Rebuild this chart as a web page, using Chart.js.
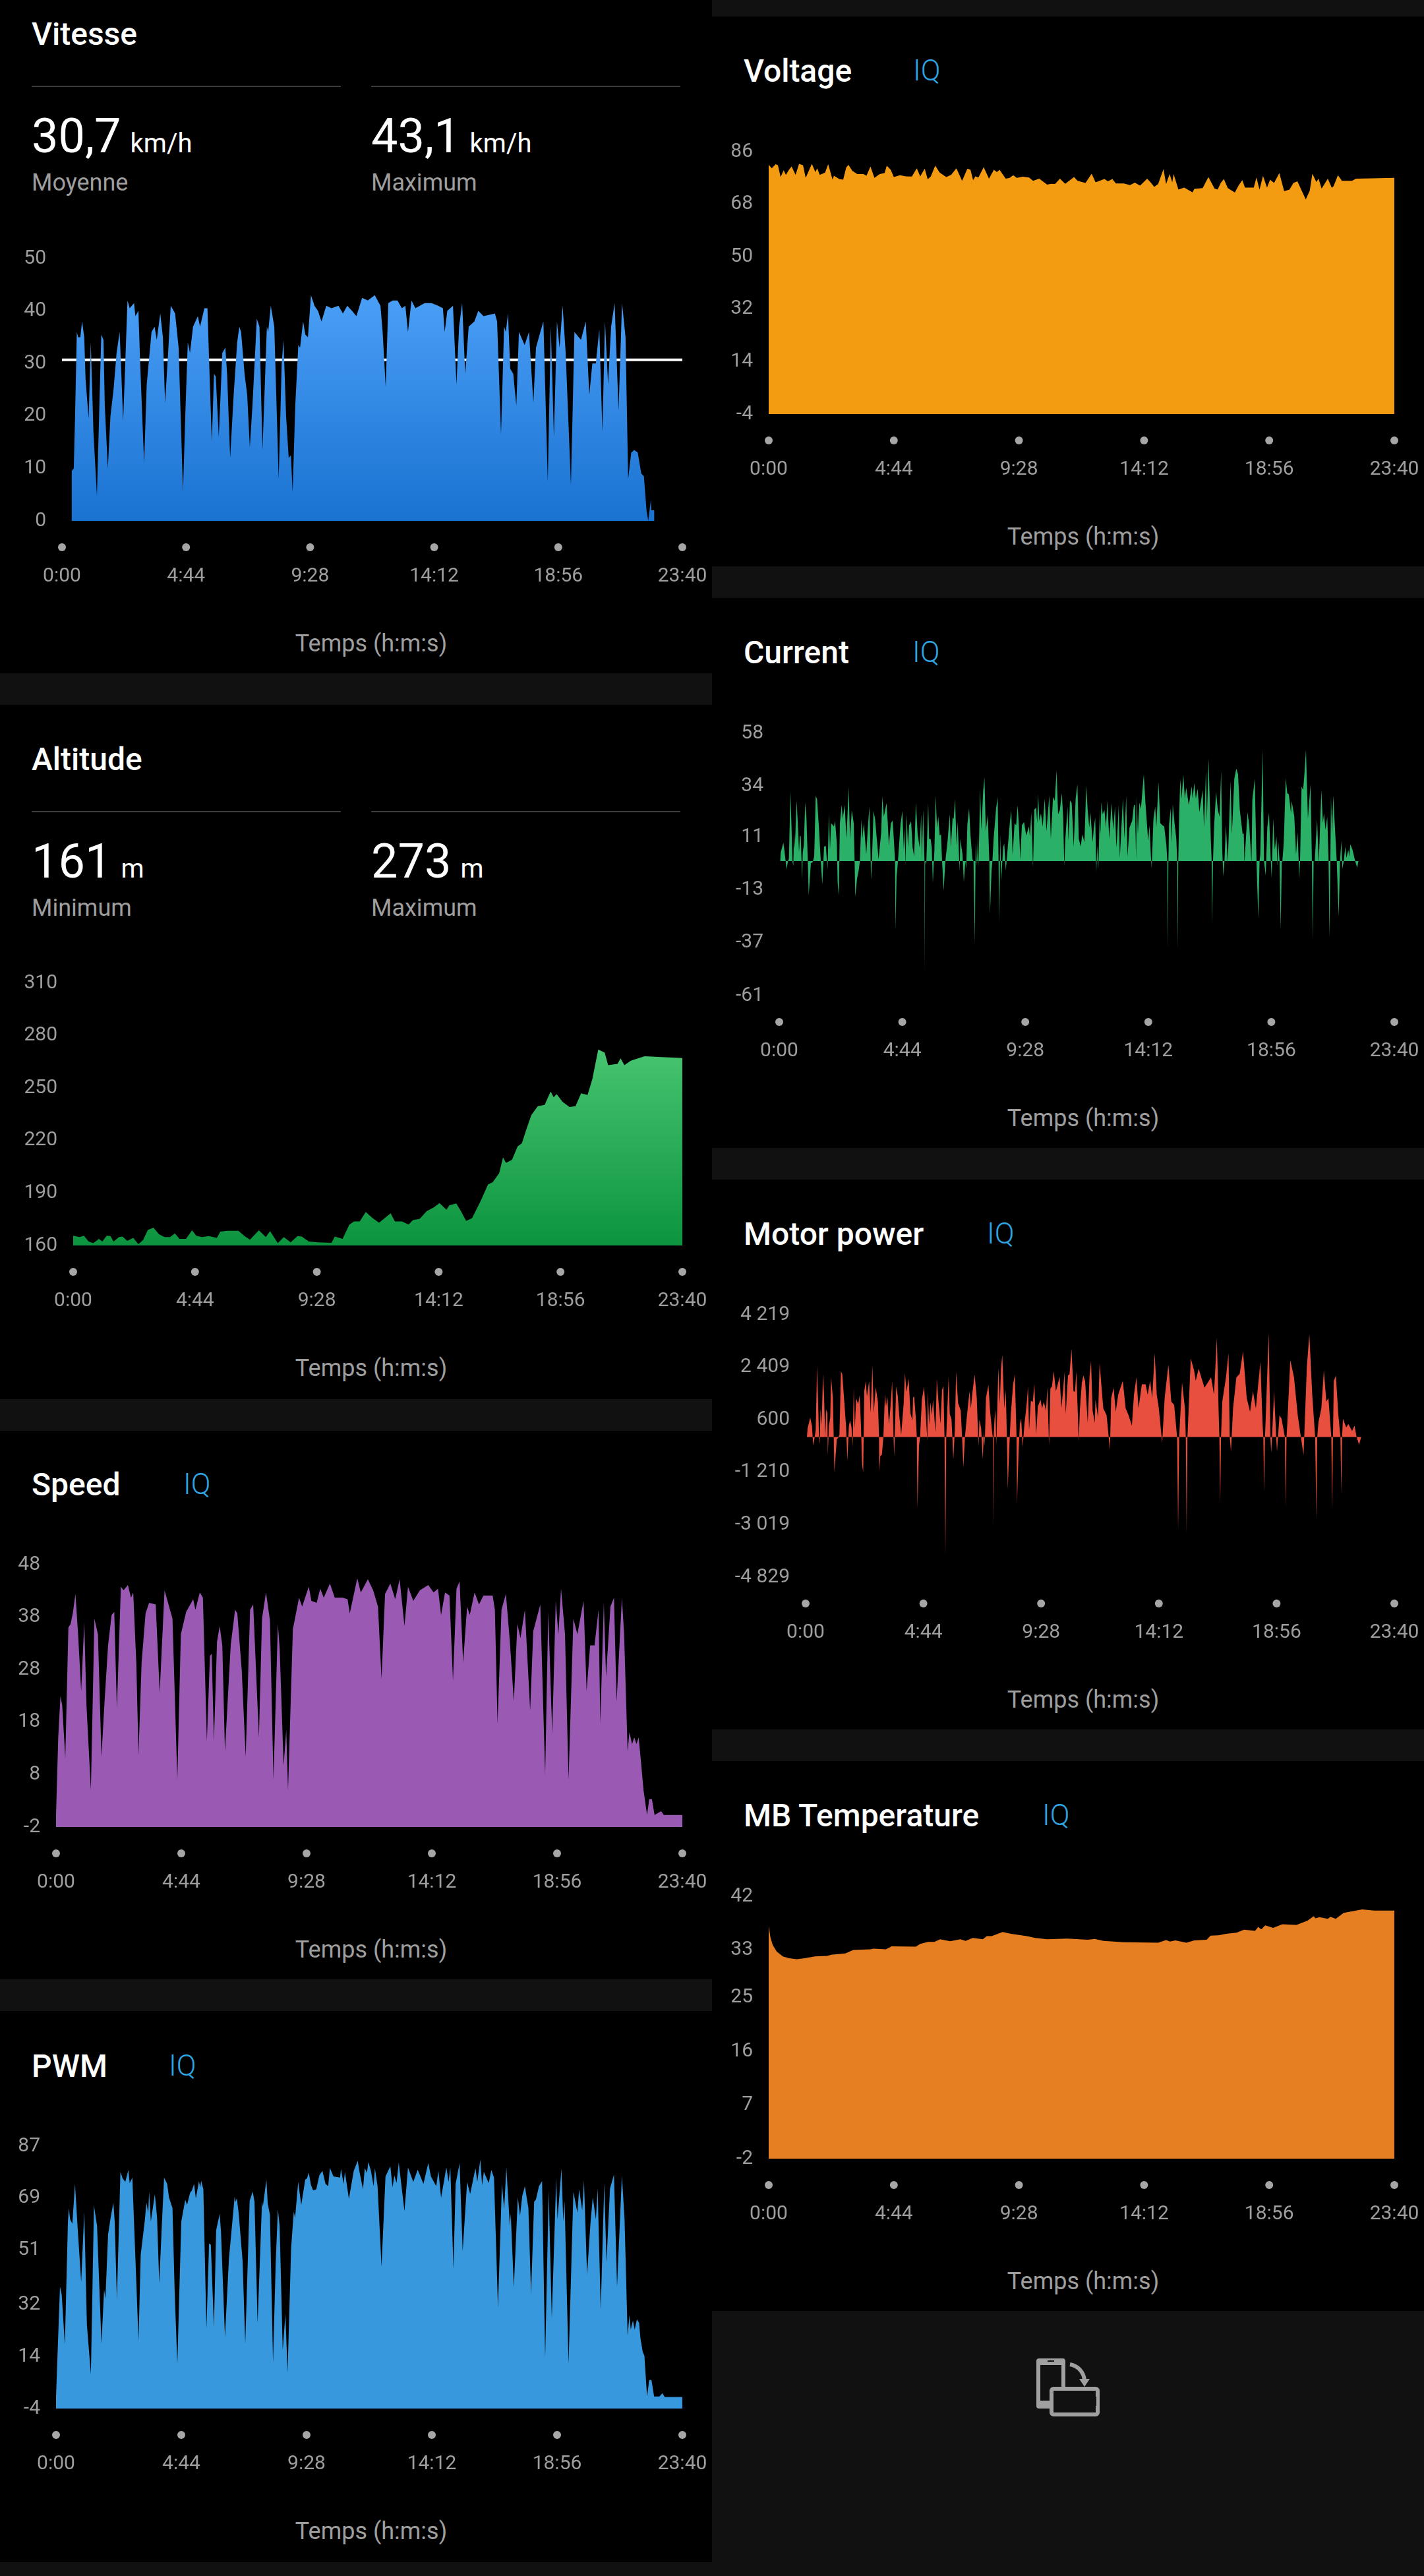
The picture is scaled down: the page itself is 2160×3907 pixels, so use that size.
<!DOCTYPE html>
<html>
<head>
<meta charset="utf-8">
<script src="https://cdn.jsdelivr.net/npm/chart.js@4"></script>
<style>
  html, body { margin: 0; background: #000; }
  body { position: relative; width: 2160px; height: 3907px; overflow: hidden; font-family: Roboto, sans-serif; }
  canvas { position: absolute; }
  .band { position: absolute; background: #111; }
  .rule { position: absolute; height: 2px; background: #3c3c3c; }
  .txt { position: absolute; transform: translateY(-50%); white-space: nowrap; }
  .title { font-size: 48px; font-weight: 500; color: #fff; }
  .iq { font-size: 44px; font-weight: 300; color: #2ea5e2; }
  .num { font-size: 72px; color: #fff; }
  .unit { font-size: 40px; color: #fff; margin-left: 14px; }
  .sub { font-size: 36px; color: #9e9e9e; }
  .axis { font-size: 36px; color: #9e9e9e; transform: translate(-50%, -50%); }
</style>
</head>
<body>
<script>
const timeTicks = [0, 284, 568, 852, 1136, 1420];
const timeLabels = ['0:00', '4:44', '9:28', '14:12', '18:56', '23:40'];
const axisTitle = 'Temps (h:m:s)';

const vitesseTicks = [50, 40, 30, 20, 10, 0];
const vitesseMean = 30.7;
const vitesseTime = [22,22,27,30,34,37,42,46,51,54,61,66,72,80,85,90,95,98,105,111,118,125,132,135,140,144,150,155,165,168,175,179,188,194,205,212,217,225,231,236,243,249,259,267,277,283,288,293,300,311,316,326,333,337,343,348,352,359,367,374,378,385,393,401,406,410,418,424,430,436,446,452,459,469,472,478,486,496,503,507,513,519,524,528,534,541,545,552,557,563,570,578,586,594,605,617,633,643,653,664,674,687,700,716,729,734,741,747,757,768,778,786,792,800,809,830,846,861,872,876,882,895,903,909,916,923,931,944,953,965,991,996,1005,1012,1016,1021,1026,1033,1040,1046,1059,1069,1079,1085,1095,1102,1112,1119,1126,1133,1139,1146,1153,1165,1173,1188,1199,1207,1214,1222,1230,1237,1243,1250,1257,1265,1274,1282,1290,1296,1303,1310,1318,1326,1332,1338,1342,1348,1349,1356,1356];
const vitesseValues = [0,9.5,10,20,36,35,35,38,35,27,19.5,34,17,4.8,20,35.5,34.5,22,10,20,25,32,36,30,19,28,42,40.5,41.5,39,40,30,11,26,36,37,34.5,39.5,35,22.5,32,41,39.5,33,5.5,22,34,32,37,39,37,40.5,40.5,30,15,28,27.5,16,32,33,28,12,24,34,37,36,28,24,14,22,38.5,37,13.5,37,36,41,37,8,30,34.5,20,12,12.5,5.5,22,33.5,33,38,35.5,35,43,41,40,38,41,40.5,41,39.5,41,40,39,42.5,42,43,41,36,25.5,41.5,42,42,40.5,41,36,42,40.5,41.5,41.5,41,40.5,36,40,41,26,37,41.5,28,37,38,40,39,39.5,38,16.5,37,36,39.5,29,28,22,36,33.5,36,22.5,33,36,38,7.5,37,16,38,33,41,32,6.8,36,34.5,38,24,30,30,36.5,17,38,26,37,41.5,21,41.5,35,8,13,13.5,13,9,8.5,2,0,4,2,2,0];

const altitudeTicks = [310, 280, 250, 220, 190, 160];
const altitudeTime = [0,15,25,36,47,60,68,78,87,94,107,115,126,140,152,163,174,187,200,213,226,237,248,263,277,287,300,316,335,343,359,385,401,412,433,449,459,477,491,507,523,533,549,570,602,610,628,644,655,668,682,697,713,740,750,766,782,792,808,824,840,854,870,877,893,904,916,930,951,967,978,993,1002,1009,1023,1036,1046,1057,1068,1083,1099,1113,1120,1127,1141,1157,1171,1184,1199,1210,1224,1239,1247,1269,1276,1285,1300,1332,1420];
const altitudeValues = [165.6,164.8,165.6,162.3,161.3,163.8,162.3,165.6,165.4,162.3,164.8,165.1,162.6,164.3,160.8,163.1,168.9,170.2,166.4,164.8,164.8,166.9,163.8,163.8,168.7,165.6,164.8,165.4,164.3,167.9,168.4,168.4,165.1,163.3,168.7,164.8,168.2,161.3,164.8,161.8,165.4,165.1,162.3,161.8,161.5,165.1,163.8,172,173.8,173.8,179.1,175.8,173,178.4,173.8,173.8,172,174.5,175.3,179.6,181.7,184.2,180.4,183,184,179.6,174,175.6,186,194.9,196.2,201.3,210.3,207.2,209,216.6,218.4,226.8,234.5,239.6,240.4,248,244.7,246.5,242.1,239.1,239.6,247,246,254.9,272,270.2,263.1,263.8,266.9,263.1,265.6,268.2,267.1];

const speedTicks = [48, 38, 28, 18, 8, -2];
const speedTime = [0,5,10,14,21,28,33,38,44,50,57,64,69,79,87,95,103,110,118,126,132,138,147,153,163,170,175,182,187,194,203,211,226,235,246,254,264,275,283,295,311,316,326,333,342,349,353,358,365,371,377,383,396,406,411,421,430,440,447,460,467,476,485,493,503,507,516,522,526,537,551,558,573,579,591,599,607,621,632,650,661,666,683,691,707,719,730,738,746,758,769,779,790,798,810,825,844,856,866,873,882,892,900,908,915,923,932,938,949,959,969,990,995,1001,1010,1020,1029,1038,1046,1053,1063,1075,1082,1098,1109,1116,1125,1133,1139,1145,1154,1162,1173,1182,1196,1203,1211,1221,1230,1234,1242,1247,1257,1265,1271,1283,1288,1296,1300,1306,1311,1316,1321,1327,1332,1340,1345,1351,1357,1372,1378,1420];
const speedValues = [0.3,15.1,22.9,21.2,11.1,36,36.7,38.7,42.4,34.7,23.9,37,21.2,5,37.7,34.7,11.4,21.9,32.6,38.4,39,20.5,43.8,43.1,44.1,41.7,42.7,29.3,11.8,29.3,38.7,40.7,40.4,23.6,43.1,40.7,37.7,7,34.7,39,41.4,39.4,42.7,41.7,14.4,30.6,31,14.4,33.3,36.3,32.6,12.4,32.6,39.4,38.7,27.9,11.4,39.4,40.4,15.1,37.7,42.7,37.4,7,36.7,32,9.7,16.5,5,35.7,41.7,40,43.8,41.1,40.7,43.4,41.7,44.4,41.7,41.7,41.4,38.7,45.4,42.7,45.2,43.1,40,26.2,42.4,44.4,41.4,45.2,36.3,43.8,41.1,43.1,44.1,42.7,43.4,38.4,42.7,42.1,25.9,43.4,44.8,29.3,40,38.4,42.7,40.4,42.1,42.1,39.4,17.8,39.4,42.4,33.3,21.9,36.7,34,39.4,20.2,35.3,40.4,8,39,15.8,41.1,34.7,43.4,34.7,7,37.7,34.7,41.1,23.9,32.6,32.6,39.4,17.8,40.7,26.6,40,41.7,21.9,41.7,34.7,12.4,16.1,13.8,15.1,13.8,15.1,9.7,5,0.3,3.3,3.3,0.3,1,0.3,0.3];

const pwmTicks = [87, 69, 51, 32, 14, -4];
const pwmTime = [0,4,9,13,20,27,29,32,37,43,49,57,64,70,79,86,93,103,109,112,118,124,130,133,138,146,151,157,164,167,173,180,187,192,201,205,209,211,215,224,229,234,240,245,252,256,264,269,275,284,293,297,304,308,313,317,324,327,329,334,341,347,351,358,363,371,374,383,392,405,407,410,414,423,429,439,446,450,457,467,469,477,480,485,492,498,503,507,514,520,525,533,539,542,549,556,565,569,573,578,583,590,597,604,611,617,621,629,644,646,652,655,664,675,684,688,696,700,705,708,714,720,723,729,738,747,758,763,767,772,777,790,798,810,820,833,844,850,862,867,873,885,890,894,901,906,915,922,932,939,951,955,962,966,970,981,987,993,1002,1011,1016,1021,1029,1031,1038,1047,1052,1057,1063,1071,1077,1084,1088,1095,1102,1109,1117,1124,1134,1137,1146,1150,1153,1162,1173,1182,1186,1193,1197,1204,1212,1217,1224,1228,1235,1243,1248,1256,1265,1272,1283,1289,1296,1300,1303,1308,1312,1317,1322,1325,1330,1334,1340,1345,1350,1356,1368,1375,1380,1420];
const pwmValues = [0,17.3,38.3,35.3,18.1,60.9,65.5,61.6,60.1,73.9,58.6,39.9,64.3,25,7.9,66.4,59.3,18.5,37.2,34.1,56.3,62.4,67.4,60.9,33.8,78.1,75.8,74.6,78.7,74.2,76.1,47.9,19.6,49.4,60.9,67.4,63.9,71.2,60.9,70.3,62.4,39.5,60.1,76.1,73.9,69.3,65.5,36.4,11.4,60.9,68.4,66.6,70.8,71.6,73.9,68.9,74.8,72.7,75,72,23.8,53.2,52.8,24.2,57.8,63.5,57.4,20.8,47.9,69.5,67.7,68.9,63.9,47.1,18.5,68.1,71.2,67.7,25.7,67.7,66.1,75.4,67,63.2,12,46.4,65.1,59.3,16.2,28.8,8.5,51.7,64.3,62,74.6,66.6,75.4,75.8,77.8,73.5,71.6,72,76.9,78.4,73.9,73.1,79.4,76.5,76.1,79.1,73.9,78.1,68.7,78.4,81.9,78.1,72,79.4,77.7,81.5,78.4,73.1,79.4,73.1,45.2,76.5,80,72.7,76.9,74.2,81.3,64.5,79.6,74.6,78.8,73.9,81.1,76.5,73.1,78.4,69.1,79.6,74.6,79.6,44.4,73.9,81.1,50.6,74.6,70.4,79.4,74.6,82.3,73.5,78.1,74.2,78.7,76.1,31.1,73.9,65.1,79.6,59.3,63.5,38,69.3,62.8,69.7,73.1,65.5,35.7,67.7,68.5,73.1,74.9,13.5,71.6,27.3,75.8,61.6,79.2,60.9,68.1,11.6,71.2,63.9,72,64.7,75,42.5,60.9,69.3,61.6,72.3,30.3,74.2,46.7,72.3,77.1,38.3,76.8,61.6,21.2,28.4,23.4,26.5,23.4,26.9,25.7,20.4,15.8,14.3,0.2,5.9,5.9,0.2,0.2,1.3,0,0];

const voltageTicks = [86, 68, 50, 32, 14, -4];
const voltageTime = [0,7,16,21,27,34,39,46,52,61,69,78,84,92,98,106,110,116,128,135,145,148,160,169,176,181,190,201,215,222,231,240,252,263,268,277,284,298,311,325,336,344,354,361,368,378,388,403,414,426,439,451,458,464,469,476,488,500,511,518,524,538,547,555,563,577,591,600,614,632,641,650,661,673,693,701,719,733,742,762,770,780,788,806,820,831,843,859,868,875,884,896,902,910,916,919,930,943,962,966,985,998,1012,1019,1026,1033,1042,1058,1067,1075,1081,1101,1107,1114,1122,1131,1138,1147,1159,1170,1182,1191,1200,1219,1228,1234,1243,1248,1255,1269,1278,1282,1292,1301,1324,1333,1420];
const voltageValues = [81.5,80.3,81.7,81.3,77.3,79.6,78.05,79.8,80.9,78.05,81.8,81.3,77,79.8,81.8,79,80.3,78.05,78.8,81.7,76.4,77.75,76.6,76.4,80.55,81.5,79.4,78.3,78.3,77.75,80.9,77,78.3,78.65,81.2,79.8,77.3,77.9,77.5,77.45,80.3,77.5,80.2,76.5,77.5,81.2,78.8,77.3,78.05,80.3,76,80.2,79.8,76.2,77.5,77.1,80.7,76.75,79.8,79,79.8,76.75,77,77.9,77,77.4,77.1,76,76.75,74.7,75,74.9,76.75,75,77.3,76,75.25,78.4,75.5,76.6,75.8,76.6,75.1,75.1,74.5,75.4,74.35,76.75,75.25,73.9,74.9,80,74.9,78.3,75.5,78.3,73,73.7,72.05,73.2,73.5,77.3,73.35,73,75.25,76.6,73.5,72,74.5,76.2,73.7,73.7,77.1,73,77.7,73.7,76.4,75.25,78.65,72.45,73,75.25,75.85,69.6,72.6,78.4,75.6,76.75,73.35,76.75,73.6,74.1,77.9,76,76,76.75,77];

const currentTicks = [58, 34, 11, -13, -37, -61];
const currentTime = [2,3.6,9.6,12.2,14.7,16.7,20.8,22.3,25.9,28.4,30.4,32.5,34,36,40.1,42.6,45.7,47.7,49.7,52.8,54.3,56.8,59.9,62.9,65.9,68,73,77.1,80.7,84.2,87.3,91.3,95.9,99.4,103.5,107.5,111.6,114.7,117.2,119.7,126.3,128.9,132.9,134.9,137.5,140,144.1,146.6,151.2,155.2,160.3,163.4,167.4,172,174,175.5,179.6,183.6,186.2,189.7,191.8,195.3,200.9,203.9,208,210,212,214,217.6,221.2,225.2,229.3,235.4,237.9,241.5,247.6,250.6,253.1,257.7,261.8,264.8,267.3,268.4,270.9,273.9,280,284.1,287.6,290.2,291.2,294.2,297.3,299.8,304.4,307.9,311.5,315.5,319.6,324.2,327.7,329.2,332.3,335.3,335.8,336.8,339.4,343.9,346,349.5,352.1,354.6,358.2,361.2,364.2,367.3,370.3,373.4,375.9,379.5,383.5,388.6,393.7,396.2,400.3,402.8,405.8,409.4,411.9,415.5,416.5,418,423.1,426.1,429.7,431.7,434.3,438.3,441.4,445.9,448.5,451.5,453.5,456.6,458.6,460.1,463.7,466.7,470.8,473.8,476.9,481.4,485,486.5,490.1,492.1,495.1,500.7,504.3,506.3,507.8,510.3,512.4,516.9,519.5,523,527.1,532.2,535.7,538.8,543.3,546.9,550.4,553.5,556.5,560.1,565.1,570.2,576.3,578.8,581.9,585.9,589,593,595.6,597.6,600.6,604.2,608.3,612.8,616.9,623.5,627,632.1,636.2,640.2,643.8,647.8,652.4,655.4,658,660.5,665.6,667.6,671.2,675.2,679.8,684.3,688.4,691.5,696,699.6,704.6,708.7,712.2,715.8,718.3,723.4,726.4,729.5,732,734,736.6,740.1,741.6,743.7,746.7,750.8,754.3,757.4,761.9,767,771.1,775.1,778.2,780.7,783.7,786.3,793.4,796.9,801,804,808.6,814.7,818.8,821.3,823.8,825.3,827.9,831.4,835,841.6,845.1,851.7,854.8,857.8,859.8,863.9,868,870.5,875.6,879.6,884.7,888.8,893.8,895.9,896.9,898.4,899.9,904,905.5,908.5,912.6,916.7,918.7,919.7,921.2,923.3,925.8,928.8,932.9,936.4,939.5,945.6,952.2,954.2,958.3,961.8,965.9,969.9,977.5,980.6,985.1,987.2,991.2,996.3,998.3,999.4,1001.4,1003.9,1008.5,1012.5,1016.6,1020.2,1022.7,1025.2,1027.8,1031.3,1035.4,1042,1045,1050.6,1055.2,1059.2,1063.3,1069.9,1072.4,1073.9,1081,1085.1,1090.2,1092.2,1097.8,1101.8,1105.9,1108.9,1110.5,1116,1119.1,1123.1,1126.7,1130.7,1134.3,1136.8,1140.4,1143.9,1148,1150,1152,1155.1,1157.6,1160.2,1161.2,1164.7,1169.3,1172.8,1176.4,1181.5,1183,1189.1,1193.1,1196.7,1199.2,1200.2,1202.3,1205.8,1209.4,1212.4,1216,1220.5,1226.6,1229.7,1231.7,1233.7,1236.3,1238.8,1241.8,1245.4,1251.5,1255,1257.6,1261.1,1265.2,1268.2,1270.3,1272.3,1273.8,1276.3,1278.9,1282.9,1287,1291.5,1294.6,1297.6,1300.2,1303.2,1306.8,1309.3,1313.9,1315.9,1318.4,1323.5,1329.6,1334.2,1337.2,1354];
const currentValues = [0,4,8.4,4.5,0,-3.8,0.5,1,31.6,15.2,0,-2.3,12.6,5.6,27.5,18.2,4,11.6,11.1,-8.3,4,7.1,26.5,19.2,0,-15.7,-1,-0.5,2,29.6,28.1,16.2,0,-10.6,6.6,6.9,-3.8,21.7,5.1,17.2,15.7,18.2,8.1,-10.1,-15.7,17.2,25.5,19.2,25.5,10.1,33.6,10.1,23,17.2,0,-16.2,-8.1,-4,0,19,10.1,17.2,3,13.1,24.7,10.1,-8.6,0,22.7,19.2,10.1,0.8,13.1,29.3,20.2,26.3,17.2,7.1,17.2,18.4,9.1,0,-31.3,-7.1,-0.5,16.7,22.7,5.1,15.2,-2.5,21.2,6.1,16.2,18,6.1,2,26.6,12.1,6.1,21.2,1,23.4,0,-50.8,0,-1.5,26.3,10.1,10.1,6.1,-10.1,5.1,29.8,15.2,20.2,11.6,12.1,0,-13.6,0,9.1,21.4,6.1,19.7,19.2,28.3,7.1,18,0,-4.8,10.1,3,-9.6,0,-3.5,16.7,24,12.1,1,0,-37.9,8.1,-2.5,12.1,-3,32.5,14.1,31.8,37.9,13.6,21,0,-24,-4.5,0,10.6,24,29,0,-27.5,12.1,-9.1,6.1,8.1,-4.5,5.1,17.2,23.2,2.5,17.2,16.2,25.3,15.2,0.5,16.2,17.7,11.6,15.7,11.1,22.2,-3,23.4,24.2,17.2,30.3,18.2,21.7,15.7,28.3,13.6,29.8,10.1,29.1,27.3,41.2,21.2,23.2,30.8,20.2,-2.5,10.1,24.7,9.1,27.5,26.3,6.6,28.3,34.8,10.1,6.6,12.1,8.6,34.3,22.7,15.2,22.2,8.6,15.2,19.7,-5.1,7.1,-4,23.2,12.1,26.7,21.2,23.2,15.2,27.5,10.1,26.3,14.1,24.7,6.1,13.1,25.3,1.5,28.5,10.1,29.5,2,15.2,18.2,25.5,25.3,1,29.5,12.1,26.5,23.7,39.4,27.3,9.1,16.2,3,-3.2,19.2,24.7,15.2,35.9,17.2,16.2,15.7,7.1,0,-40,0,16.7,24,8.1,25.8,17.2,10.1,0,-40.2,0,21.2,37.4,28.3,39.2,28.3,33.3,25.3,33.9,28.3,35.4,28.3,32.8,22.2,32.3,15.2,40.9,18.2,46.7,10.1,0,-28.8,0,15.7,31.5,23.2,20.2,41.2,5.1,-7.1,0,16.3,-1,36.4,12.1,37.4,41.9,39.4,23.2,12.1,12.6,-1,22.2,16.2,-1,27.8,37.4,0,-26.1,0,3,50.5,0,-6.6,15.2,22,2,-7.6,19.4,5.1,11.1,-2.5,9.1,0,-31.5,0,-0.5,8.1,37.6,30.8,30.3,21.7,27.3,20.2,3,13.1,0,-8.1,0,33.8,32.3,39.4,50.5,19.2,34.8,0,-36,0,0,9.1,18.7,-1.5,32.3,17.2,21.7,14.1,20.2,0,-35,0,29.3,12.1,29.8,15.2,0,-25.3,0,9.1,-3.5,0,6.6,1.5,5.1,2,7.6,5.1,0,-3,0,0];

const powerTicks = [4219, 2409, 600, -1210, -3019, -4829];
const powerTime = [3.2,4.8,11.1,15.4,17,18.6,22.3,24.4,27.6,30.2,32.3,33.9,36,38.7,41.9,44.5,47.2,49.8,52.5,53.5,56.2,59.4,61.5,65.7,67.8,69.4,75.3,79,81.6,85.3,88.5,93.3,97.5,100.7,104.4,107.1,110.8,113.4,116.1,118.7,121.9,126.7,130.4,133.6,136.2,138.9,141.5,145.2,147.9,153.2,156.9,161.1,164.3,169.1,174.4,177,177.6,180.2,183.9,187.6,191.3,194,197.2,200.9,204.6,208.8,212,213.6,218.4,222.1,225.8,230.5,236.4,239.6,243.3,248.6,252.8,257.6,259.2,261.8,266.1,268.2,269.8,273.5,276.1,280.4,285.7,289.4,293.6,294.7,297.9,301,304.2,307.4,313.2,316.4,320.1,325.4,329.1,332.3,335,337.1,339.2,340.3,345,347.7,351.9,354,356.2,359.9,363,367.8,374.2,377.4,380.5,384.3,389,395.4,398.6,402.3,407.6,412.9,417.1,419.2,423.5,427.2,430.4,432,435.1,441,444.7,450,451.6,452.6,453.7,455.3,457.9,460,464.8,468.5,471.2,474.4,479.1,482.8,485.5,487.6,491.3,495,500.3,504.6,508.8,509.9,513.6,516.8,520,523.6,527.9,533.2,536.4,539,543.3,548,551.7,556,560.2,566.6,570.3,574.5,579.8,583,587.2,590.4,594.1,598.4,603.7,606.3,612.7,616.9,621.2,624.3,627.5,632.8,636.5,641.3,646.1,649.8,652.9,656.7,658.8,661.4,666.2,669.9,674.2,680.5,684.8,688.5,692.2,697.5,699.1,705.4,709.1,718,726,734,737,743,748,754,765,772,779,787,792,798,803,811,820,825,831,836,842,847,852,860,866,875,882,889,896,898.5,901,908,915,917,919,921,929,937,941,948,957,962,970,978,985,992,996,998,1000,1002,1005,1014,1020,1023,1026,1031,1039,1047,1055,1064,1072,1079,1086,1097,1102,1104,1106,1108,1110,1117,1121,1123,1125,1130,1135,1137,1143,1148,1156,1158,1160,1162,1169,1178,1187,1193,1201,1209,1215,1222,1229,1232,1234,1237,1244,1250,1256,1261,1268,1270,1272,1274,1279,1285,1290,1292,1294,1296,1304,1309,1318,1324,1329,1335,1340,1378];
const powerValues = [0,300,670,380,0,-300,40,230,2450,1170,0,-250,990,420,2180,1440,-40,950,830,-640,380,680,2060,1360,0,-1210,-80,-20,80,2270,2160,1210,380,-820,380,570,340,-340,1680,300,1330,1140,1440,380,-950,-1210,1590,1930,1400,1930,830,2470,830,1720,1210,80,-1180,-650,-610,0,1480,1060,1400,420,1020,1930,0,-680,1740,1440,760,80,1140,2210,1560,2020,830,570,1360,1400,610,0,-2460,-300,0,1290,1730,910,-150,1590,420,1210,760,1290,150,2010,1290,450,1630,1760,0,-4090,0,420,2090,800,610,0,-780,230,2260,1170,910,0,-1060,0,720,1590,990,1520,2160,1330,-340,610,300,-760,230,-340,1360,1800,950,150,0,-3110,0,570,950,-270,2390,1140,2350,2840,990,1630,0,-1800,-340,790,1790,2160,0,-2310,-530,450,640,-340,450,1140,1740,230,1250,1210,1850,80,1060,1290,990,1210,910,1710,-300,1670,1740,2270,1590,1710,2080,990,1630,2240,800,2120,2160,3050,1590,1560,2270,760,-150,910,1860,2120,1930,490,2080,2620,910,490,1290,680,2550,988,750,-440,1345,1702,869,1464,1940,988,750,393,1464,2059,988,1821,1821,1464,1940,1345,2892,1464,988,-202,1345,2499,1226,1107,0,-3201,0,1880,988,0,-3332,0,2713,2297,1940,2356,1940,1702,1880,2059,1464,3427,988,0,-2320,0,1226,2059,2892,0,-500,988,2059,2178,2951,1345,869,1583,988,2594,512,0,-1892,0,750,3606,0,-536,0,1583,0,-500,750,631,0,-2404,0,512,2654,2059,750,155,-619,2416,3546,1464,0,-2820,0,512,988,2297,1226,1345,0,-2523,0,1940,2118,750,0,-1928,0,631,333,452,214,393,0,-262,0,0];

const tempTicks = [42, 33, 25, 16, 7, -2];
const tempTime = [0,4,9,18,32,46,64,82,105,133,142,174,192,231,238,266,279,334,344,362,376,389,412,435,447,463,486,495,506,531,550,586,605,632,678,724,740,760,806,884,902,911,923,948,966,994,1003,1021,1038,1062,1079,1104,1111,1118,1127,1145,1166,1198,1223,1237,1241,1250,1269,1275,1287,1305,1347,1374,1420];
const tempValues = [37,35.1,33.85,32.75,31.9,31.6,31.45,31.6,31.9,32,32.2,32.4,33,33.1,33.2,33.1,33.6,33.55,34,34.35,34.35,34.8,34.45,34.8,34.5,35,34.8,35.3,35.3,36,35.7,35.3,35,34.8,34.9,34.7,34.85,34.5,34.3,34.2,34.65,34.4,34.6,34.2,34.6,34.7,35.4,35.45,35.7,35.9,36.4,36.2,36.85,36.45,37.1,36.7,37.3,37.2,37.9,38.65,38.3,38.5,38.2,38.55,38.2,39.2,39.8,39.6,39.6];

const bands = [[0,1021,1080,48],[0,2122,1080,48],[0,3002,1080,48],[0,3886,1080,21],[1080,0,1080,25],[1080,859,1080,48],[1080,1741,1080,48],[1080,2623,1080,48],[1080,3505,1080,402]];

function addText(cls, text, x, y) {
  const el = document.createElement('div');
  el.className = 'txt ' + cls;
  el.style.left = x + 'px';
  el.style.top = y + 'px';
  el.innerHTML = text;
  document.body.appendChild(el);
  return el;
}

function addRule(x, y, w) {
  const el = document.createElement('div');
  el.className = 'rule';
  el.style.left = x + 'px';
  el.style.top = y + 'px';
  el.style.width = w + 'px';
  document.body.appendChild(el);
}

bands.forEach(b => {
  const el = document.createElement('div');
  el.className = 'band';
  el.style.cssText = `left:${b[0]}px;top:${b[1]}px;width:${b[2]}px;height:${b[3]}px`;
  document.body.appendChild(el);
});

// grey dots under the time axis
const tickDots = {
  id: 'tickDots',
  afterDraw(chart) {
    const x = chart.scales.x, c = chart.ctx;
    c.save();
    c.fillStyle = '#a6a6a6';
    x.ticks.forEach((t, i) => {
      c.beginPath();
      c.arc(x.getPixelForTick(i), chart.chartArea.bottom + 40, 6, 0, Math.PI * 2);
      c.fill();
    });
    c.restore();
  }
};

function spaced(v) {
  return String(v).replace(/\B(?=(\d{3})+(?!\d))/g, ' ');
}

function toPoints(times, values) {
  return times.map((t, i) => ({ x: t, y: values[i] }));
}

// p: col, top (first y tick), axisLeft, ticks, times, values, color or gradient, fill
function makeChart(p) {
  const canvas = document.createElement('canvas');
  const padTop = 30, plotH = 398, xH = 130;
  canvas.width = 1080;
  canvas.height = padTop + plotH + xH;
  canvas.style.left = p.col + 'px';
  canvas.style.top = (p.top - padTop) + 'px';
  document.body.appendChild(canvas);

  const fillColor = p.gradient ? function (ctx) {
    const chart = ctx.chart;
    if (!chart.chartArea) return p.gradient[0];
    const g = chart.ctx.createLinearGradient(0, chart.scales.y.getPixelForValue(Math.max(...p.values)), 0, chart.chartArea.bottom);
    g.addColorStop(0, p.gradient[0]);
    g.addColorStop(1, p.gradient[1]);
    return g;
  } : p.color;

  const datasets = [{
    data: toPoints(p.times, p.values),
    backgroundColor: fillColor,
    borderWidth: 0,
    pointRadius: 0,
    fill: p.fill,
    tension: 0
  }];
  if (p.mean !== undefined) {
    datasets.push({
      data: [{ x: timeTicks[0], y: p.mean }, { x: timeTicks[5], y: p.mean }],
      borderColor: '#fff',
      borderWidth: 4,
      pointRadius: 0,
      fill: false
    });
  }

  new Chart(canvas, {
    type: 'line',
    data: { datasets: datasets },
    plugins: [tickDots],
    options: {
      responsive: false,
      devicePixelRatio: 1,
      animation: false,
      layout: { autoPadding: false, padding: { top: padTop, right: 45, left: 0, bottom: 0 } },
      plugins: { legend: { display: false }, tooltip: { enabled: false } },
      scales: {
        x: {
          type: 'linear',
          min: timeTicks[0],
          max: timeTicks[5],
          grid: { display: false },
          border: { display: false },
          afterBuildTicks: s => { s.ticks = timeTicks.map(v => ({ value: v })); },
          afterFit: s => { s.height = xH; s.paddingLeft = 0; s.paddingRight = 0; },
          ticks: {
            color: '#9e9e9e',
            font: { family: 'Roboto', size: 30 },
            padding: 58,
            maxRotation: 0,
            autoSkip: false,
            callback: (v, i) => timeLabels[i]
          }
        },
        y: {
          min: p.ticks[5],
          max: p.ticks[0],
          grid: { display: false },
          border: { display: false },
          afterBuildTicks: s => { s.ticks = p.ticks.map(v => ({ value: v })); },
          afterFit: s => { s.width = p.axisLeft; s.paddingTop = 0; s.paddingBottom = 0; },
          ticks: {
            color: '#9e9e9e',
            font: { family: 'Roboto', size: 30 },
            padding: 16,
            autoSkip: false,
            callback: v => spaced(v)
          }
        }
      }
    }
  });
  addText('axis', axisTitle, p.col + 563, p.top + 584);
}

// Vitesse
addText('title', 'Vitesse', 48, 51);
addRule(48, 130, 469); addRule(563, 130, 469);
addText('num', '30,7<span class="unit">km/h</span>', 48, 206);
addText('num', '43,1<span class="unit">km/h</span>', 563, 206);
addText('sub', 'Moyenne', 48, 277);
addText('sub', 'Maximum', 563, 277);
makeChart({ col: 0, top: 392, axisLeft: 94, ticks: vitesseTicks, times: vitesseTime, values: vitesseValues, gradient: ['#4a9ff6', '#1a72d1'], fill: 'start', mean: vitesseMean });

// Altitude
addText('title', 'Altitude', 48, 1151);
addRule(48, 1230, 469); addRule(563, 1230, 469);
addText('num', '161<span class="unit">m</span>', 48, 1306);
addText('num', '273<span class="unit">m</span>', 563, 1306);
addText('sub', 'Minimum', 48, 1377);
addText('sub', 'Maximum', 563, 1377);
makeChart({ col: 0, top: 1491, axisLeft: 111, ticks: altitudeTicks, times: altitudeTime, values: altitudeValues, gradient: ['#47c470', '#0c943f'], fill: 'start' });

// IQ panels
addText('title', 'Speed', 48, 2251);
addText('iq', 'IQ', 278, 2251);
makeChart({ col: 0, top: 2373, axisLeft: 85, ticks: speedTicks, times: speedTime, values: speedValues, color: '#9a5ab4', fill: 'start' });

addText('title', 'PWM', 48, 3133);
addText('iq', 'IQ', 256, 3133);
makeChart({ col: 0, top: 3255, axisLeft: 85, ticks: pwmTicks, times: pwmTime, values: pwmValues, color: '#3798dd', fill: 'start' });

addText('title', 'Voltage', 1128, 107);
addText('iq', 'IQ', 1385, 107);
makeChart({ col: 1080, top: 230, axisLeft: 86, ticks: voltageTicks, times: voltageTime, values: voltageValues, color: '#f39c12', fill: 'start' });

addText('title', 'Current', 1128, 989);
addText('iq', 'IQ', 1384, 989);
makeChart({ col: 1080, top: 1112, axisLeft: 102, ticks: currentTicks, times: currentTime, values: currentValues, color: '#2bb067', fill: 'origin' });

addText('title', 'Motor power', 1128, 1871);
addText('iq', 'IQ', 1497, 1871);
makeChart({ col: 1080, top: 1994, axisLeft: 142, ticks: powerTicks, times: powerTime, values: powerValues, color: '#e94f3e', fill: 'origin' });

addText('title', 'MB Temperature', 1128, 2753);
addText('iq', 'IQ', 1581, 2753);
makeChart({ col: 1080, top: 2876, axisLeft: 86, ticks: tempTicks, times: tempTime, values: tempValues, color: '#e67e22', fill: 'start' });
</script>
<svg style="position:absolute;left:1560px;top:3570px" width="120" height="105" viewBox="1560 3570 120 105">
  <path fill="#a0a0a0" fill-rule="evenodd" d="M1576 3577h36a4 4 0 0 1 4 4v39h-6v-33h-32v54h14v12h-16a4 4 0 0 1-4-4v-68a4 4 0 0 1 4-4z"/>
  <rect x="1589" y="3580" width="10" height="2" fill="#111"/>
  <rect x="1595" y="3623" width="70" height="39" rx="3" fill="#111" stroke="#a0a0a0" stroke-width="6"/>
  <rect x="1661" y="3635" width="2" height="14" fill="#111"/>
  <path fill="none" stroke="#a0a0a0" stroke-width="6" d="M1623 3586c12 2 21 12 22 24"/>
  <path fill="#a0a0a0" d="M1637 3608h16l-8 12z"/>
</svg>
</body>
</html>
